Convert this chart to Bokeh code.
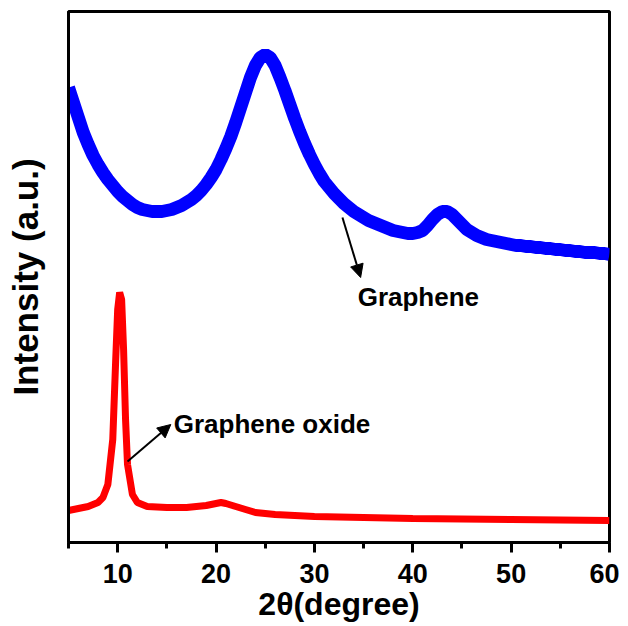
from bokeh.plotting import figure
from bokeh.models import Range1d, FixedTicker, Label, Arrow, NormalHead
from bokeh.embed import file_html
from bokeh.resources import INLINE

# Graphene (blue) - 2theta and intensity (a.u.)
g_x = [5 + 0.5 * i for i in range(111)]
g_y = [455, 440, 425, 410, 398, 387, 378, 370, 363, 357, 351, 346, 342, 338, 335, 333,
       332, 331, 331, 331, 332, 333, 335, 337, 340, 343, 347, 352, 358, 365, 373, 383,
       394, 406, 420, 435, 450, 465, 477, 485, 488, 485, 477, 465, 452, 438, 424, 411,
       399, 388, 378, 369, 361, 355, 349, 344, 339, 335, 331, 328, 325, 322, 320, 318,
       316, 314, 312, 311, 310, 309, 309, 310, 312, 317, 323, 328, 331, 331, 328, 323,
       318, 313, 310, 307, 305, 303, 302, 301, 300, 299, 298, 297, 297, 296, 296, 295,
       295, 294, 294, 293, 293, 292, 292, 291, 291, 290, 290, 290, 289, 289, 288]

# Graphene oxide (red)
go_x = [5, 6, 7, 8, 8.5, 9, 9.5, 9.8, 10, 10.2, 10.4, 10.6, 10.8, 11, 11.5, 12, 13, 15,
        17, 19, 20, 20.5, 21, 22, 23, 24, 26, 30, 40, 50, 60]
go_y = [32, 34, 36, 40, 45, 58, 103, 183, 233, 250, 243, 193, 123, 78, 48, 40, 36, 35,
        35, 37, 39, 40, 39, 36, 33, 30, 28, 26, 24, 23, 22]

x_ticks = [10, 20, 30, 40, 50, 60]
x_minor = [5, 15, 25, 35, 45, 55]

FONT = "Liberation Sans"

p = figure(width=619, height=624, output_backend="svg", toolbar_location=None,
           x_range=Range1d(5, 60), y_range=Range1d(0, 531),
           min_border_left=68, min_border_right=10, min_border_top=11, min_border_bottom=82)
p.grid.visible = False
p.outline_line_color = "black"
p.outline_line_width = 3
p.outline_line_alpha = 1

p.line(g_x, g_y, line_color="#0000ff", line_width=13)
p.line(go_x, go_y, line_color="#ff0000", line_width=7)

xa = p.xaxis[0]
xa.ticker = FixedTicker(ticks=x_ticks, minor_ticks=x_minor)
xa.axis_line_width = 3
xa.major_tick_line_width = 3
xa.minor_tick_line_width = 3
xa.major_tick_in = 0
xa.major_tick_out = 10
xa.minor_tick_in = 0
xa.minor_tick_out = 6
xa.major_label_text_font = FONT
xa.major_label_text_font_style = "bold"
xa.major_label_text_font_size = "27px"
xa.major_label_text_color = "black"
xa.major_label_standoff = 11
xa.axis_label = "2θ(degree)"
xa.axis_label_text_font = FONT
xa.axis_label_text_font_style = "bold"
xa.axis_label_text_font_size = "32px"
xa.axis_label_text_color = "black"
xa.axis_label_standoff = 0

ya = p.yaxis[0]
ya.ticker = FixedTicker(ticks=[])
ya.axis_line_width = 3
ya.major_tick_out = 0
ya.minor_tick_out = 0
ya.axis_label = "Intensity (a.u.)"
ya.axis_label_text_font = FONT
ya.axis_label_text_font_style = "bold"
ya.axis_label_text_font_size = "35px"
ya.axis_label_text_color = "black"
ya.axis_label_standoff = 24

# annotations
p.add_layout(Arrow(x_start=11.0, y_start=81, x_end=15.4, y_end=118, line_width=2,
                   end=NormalHead(size=13, fill_color="black", line_color="black")))
p.add_layout(Label(x=15.7, y=119, text="Graphene oxide", text_font=FONT,
                   text_font_style="bold", text_font_size="26px", text_color="black",
                   text_baseline="middle", text_align="left"))
p.add_layout(Arrow(x_start=32.85, y_start=325, x_end=34.7, y_end=265, line_width=2,
                   end=NormalHead(size=13, fill_color="black", line_color="black")))
p.add_layout(Label(x=34.4, y=246, text="Graphene", text_font=FONT,
                   text_font_style="bold", text_font_size="26px", text_color="black",
                   text_baseline="middle", text_align="left"))

open("out.html", "w").write(file_html(p, INLINE))
